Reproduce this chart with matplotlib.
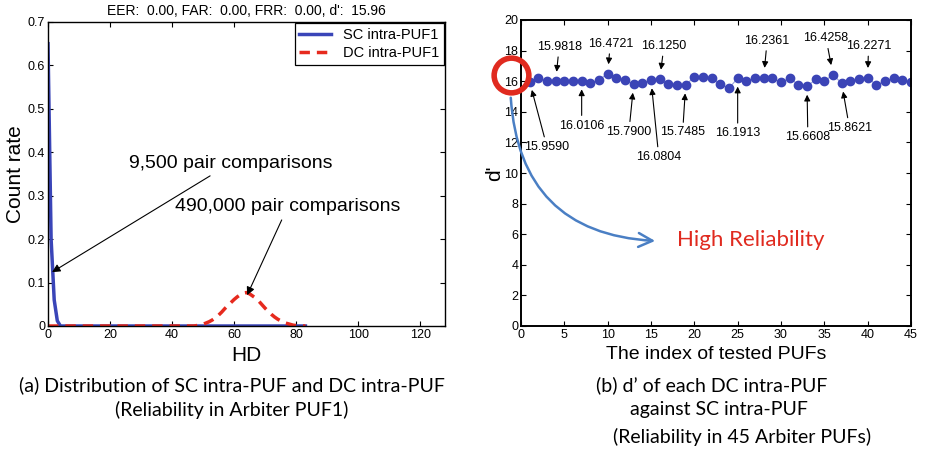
import matplotlib
matplotlib.use("Agg")
import matplotlib.pyplot as plt
from matplotlib.patches import FancyArrowPatch

plt.rcParams['font.family'] = ['Liberation Sans', 'DejaVu Sans']

# (a) HD distribution of Arbiter PUF1
sc_hd = [0, 1, 2, 3, 4, 83]
sc_rate = [0.65, 0.20, 0.06, 0.012, 0.0, 0.0]
dc_hd = [0, 47, 48, 49, 50, 51, 52, 53, 54, 55, 56, 57, 58, 59, 60, 61, 62, 63, 64,
         65, 66, 67, 68, 69, 70, 71, 72, 73, 74, 75, 76, 77, 78, 79, 80, 81, 83]
dc_rate = [0.0, 0.0, 0.001, 0.002, 0.004, 0.007, 0.010, 0.014, 0.019, 0.025, 0.032,
           0.040, 0.047, 0.054, 0.061, 0.067, 0.072, 0.076, 0.077, 0.074, 0.069,
           0.064, 0.057, 0.049, 0.041, 0.034, 0.027, 0.021, 0.016, 0.012, 0.008,
           0.006, 0.004, 0.002, 0.001, 0.0005, 0.0]

# (b) d' of 45 Arbiter PUFs
puf_idx = list(range(1, 46))
d_prime = [15.9590, 16.18, 16.00, 15.9818, 16.00, 16.00, 16.0106, 15.85, 16.10, 16.4721,
           16.22, 16.10, 15.7900, 15.86, 16.0804, 16.1250, 15.80, 15.76, 15.7485, 16.29,
           16.25, 16.20, 15.80, 15.55, 16.1913, 16.03, 16.20, 16.2361, 16.18, 15.92,
           16.20, 15.77, 15.6608, 16.12, 16.00, 16.4258, 15.8621, 16.02, 16.15, 16.2271,
           15.75, 16.00, 16.20, 16.08, 15.92]
# labelled points: index, text x, text y
labels_above = [(4, 4.4, 18.25), (10, 10.3, 18.45), (16, 16.5, 18.3),
                (28, 28.4, 18.65), (36, 35.2, 18.8), (40, 40.1, 18.3)]
labels_below = [(1, 3.0, 11.7), (7, 7.0, 13.1), (13, 12.45, 12.7), (15, 15.9, 11.05),
                (19, 18.65, 12.65), (25, 25.0, 12.6), (33, 33.1, 12.35), (37, 37.9, 12.95)]

W, H = 927, 455
fig = plt.figure(figsize=(W / 100, H / 100), dpi=100)

def px_axes(l, t, r, b):
    return fig.add_axes([l / W, 1 - b / H, (r - l) / W, (b - t) / H])

def matlab_ticks(ax, lw):
    ax.tick_params(direction='in', top=True, right=True, length=3.5, width=0.8,
                   labelsize=9, pad=2)
    for s in ax.spines.values():
        s.set_linewidth(lw)

# ---- left chart
ax1 = px_axes(48, 22, 445, 326)
ax1.plot(sc_hd, sc_rate, color='#3a45b8', lw=2.5, label='SC intra-PUF1')
ax1.plot(dc_hd, dc_rate, color='#e62a1e', lw=2.5, ls=(0, (3, 2)), label='DC intra-PUF1')
ax1.set_xlim(0, 128)
ax1.set_ylim(0, 0.7)
ax1.set_xticks(range(0, 121, 20))
ax1.set_yticks([0, 0.1, 0.2, 0.3, 0.4, 0.5, 0.6, 0.7])
ax1.set_yticklabels(['0', '0.1', '0.2', '0.3', '0.4', '0.5', '0.6', '0.7'])
matlab_ticks(ax1, 1.0)
ax1.set_xlabel('HD', fontsize=15, labelpad=4)
ax1.set_ylabel('Count rate', fontsize=15, labelpad=2)
ax1.set_title("EER:  0.00, FAR:  0.00, FRR:  0.00, d':  15.96", fontsize=10, pad=5)
leg = ax1.legend(loc='upper right', fontsize=10.5, fancybox=False, framealpha=1,
                 edgecolor='black', borderaxespad=0.1, handlelength=2.2,
                 borderpad=0.3, labelspacing=0.3)
leg.get_frame().set_linewidth(0.9)
ax1.annotate('9,500 pair comparisons', xy=(sc_hd[1] + 0.3, 0.124), xytext=(59, 0.375),
             fontsize=14, ha='center', va='center',
             arrowprops=dict(arrowstyle='-|>', color='black', lw=0.8,
                             mutation_scale=12, shrinkA=2, shrinkB=0))
ax1.annotate('490,000 pair comparisons', xy=(64.2, 0.071), xytext=(77.4, 0.276),
             fontsize=14, ha='center', va='center',
             arrowprops=dict(arrowstyle='-|>', color='black', lw=0.8,
                             mutation_scale=12, shrinkA=2, shrinkB=0))

# ---- right chart
ax2 = px_axes(521, 20, 911, 326)
ax2.plot(puf_idx, d_prime, color='#9aa3dd', lw=0.8, marker='o', ms=6,
         markerfacecolor='#3b44b6', markeredgecolor='#3b44b6')
ax2.set_xlim(0, 45)
ax2.set_ylim(0, 20)
ax2.set_xticks(range(0, 46, 5))
ax2.set_yticks(range(0, 21, 2))
matlab_ticks(ax2, 1.4)
ax2.set_xlabel('The index of tested PUFs', fontsize=14, labelpad=4)
ax2.set_ylabel("d'", fontsize=15, labelpad=0)

for i, tx, ty in labels_above:
    ax2.annotate('%.4f' % d_prime[i - 1], xy=(i, d_prime[i - 1]), xytext=(tx, ty),
                 fontsize=9, ha='center', va='center',
                 arrowprops=dict(arrowstyle='-|>', color='black', lw=0.8,
                                 mutation_scale=9, shrinkA=1, shrinkB=7))
for i, tx, ty in labels_below:
    ax2.annotate('%.4f' % d_prime[i - 1], xy=(i, d_prime[i - 1]), xytext=(tx, ty),
                 fontsize=9, ha='center', va='center',
                 arrowprops=dict(arrowstyle='-|>', color='black', lw=0.8,
                                 mutation_scale=9, shrinkA=1, shrinkB=6))

# red circle around the d' ~ 16 level
ax2.plot([-1.15], [16.4], marker='o', ms=25, mfc='none', mec='#e02a1f', mew=4,
         clip_on=False, zorder=5)
arr = FancyArrowPatch((-1.2, 15.1), (15.8, 5.55), connectionstyle='arc3,rad=0.45',
                      arrowstyle='->', mutation_scale=25, color='#4a7fc4', lw=1.8,
                      clip_on=False, zorder=4)
ax2.add_patch(arr)
ax2.text(18.0, 5.6, 'High Reliability', color='#e02a1f', fontsize=16,
         ha='left', va='center', family=['Lato', 'DejaVu Sans'])

# captions
cap = ['Lato', 'DejaVu Sans']
fig.text(232 / W, 1 - 385 / H, '(a) Distribution of SC intra-PUF and DC intra-PUF',
         fontsize=14, ha='center', va='center', family=cap)
fig.text(232 / W, 1 - 410 / H, '(Reliability in Arbiter PUF1)',
         fontsize=14, ha='center', va='center', family=cap)
fig.text(596 / W, 1 - 385 / H, "(b) d\u2019 of each DC intra-PUF",
         fontsize=14, ha='left', va='center', family=cap)
fig.text(630 / W, 1 - 410 / H, 'against SC intra-PUF',
         fontsize=14, ha='left', va='center', family=cap)
fig.text(613 / W, 1 - 437 / H, '(Reliability in 45 Arbiter PUFs)',
         fontsize=14, ha='left', va='center', family=cap)

fig.savefig('out.png', dpi=100)
